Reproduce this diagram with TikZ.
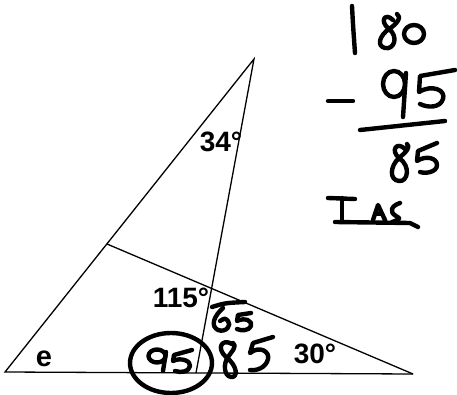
\documentclass[tikz,border=0pt]{standalone}
\usepackage{fontspec}
\setmainfont{Liberation Sans}
\usetikzlibrary{calc}
\tikzset{
  side/.style={line width=1.3pt, line join=miter},
  ink/.style={line width=4.4pt, line cap=round, line join=round},
  angtag/.style={font=\fontsize{28}{28}\selectfont\bfseries, inner sep=0pt, anchor=base}
}
\begin{document}
\begin{tikzpicture}[x=1pt, y=-1pt]
  \useasboundingbox (0,0) rectangle (457,395);
  % triangle and the two cevians
  \coordinate (A) at (5,372);
  \coordinate (B) at (254,59);
  \coordinate (C) at (413,374);
  \coordinate (D) at (196,372.9);
  \coordinate (E) at (107,244);
  \draw[side] (D) -- (B) -- (A) -- (C);
  \draw[side] (E) -- (C);
  % printed angles
  \node[angtag] (topang) at (221,152) {34°};
  \node[angtag] (midang) at (181,307) {115°};
  \node[angtag] (rightang) at (315,363) {30°};
  \node[angtag, font=\fontsize{29}{29}\selectfont\bfseries] (eang) at (44,366) {e};
  % handwritten working: 180 - 95 = 85
  \draw[ink] (352,6) .. controls (353,25) .. (355,53);
  \draw[ink] (393,20) .. controls (385,12) and (379,21) .. (389,29)
    .. controls (399,37) and (394,50) .. (385,48)
    .. controls (376,46) and (380,35) .. (389,29)
    .. controls (397,24) and (402,17) .. (397,14);
  \draw[ink] (414,34) ellipse [x radius=10, y radius=9];
  \draw[ink] (328,101) -- (353,101);
  \draw[ink] (394,84) ellipse [x radius=11, y radius=13];
  \draw[ink] (406,73) .. controls (405,95) .. (403,117);
  \draw[ink] (455,70) -- (420,76) -- (419,92)
    .. controls (432,84) and (446,90) .. (443,99)
    .. controls (440,108) and (428,108) .. (420,104);
  \draw[ink] (360,130) -- (445,121);
  \draw[ink] (405,149) .. controls (397,141) and (390,150) .. (399,158)
    .. controls (411,166) and (408,182) .. (399,181)
    .. controls (389,180) and (390,166) .. (399,158)
    .. controls (406,152) and (411,147) .. (407,144);
  \draw[ink] (437,143) -- (418,151) -- (417,161)
    .. controls (426,155) and (437,158) .. (437,165)
    .. controls (437,172) and (426,174) .. (420,172);
  % handwritten TAS
  \draw[ink] (328,198) -- (355,199);
  \draw[ink] (342,198) -- (342,222);
  \draw[ink] (335,222) -- (410,223) -- (418,227);
  \draw[ink] (373,220) -- (378,205) -- (385,220);
  \draw[ink] (375,214) -- (382,214);
  \draw[ink] (400,203) .. controls (391,206) and (389,212) .. (396,216)
    .. controls (401,219) .. (392,222);
  % handwritten 65 and 85 near the crossing
  \draw[ink] (212,307) .. controls (225,303) .. (245,302);
  \draw[ink] (223,308) .. controls (214,316) and (210,326) .. (218,330)
    .. controls (226,333) and (232,325) .. (228,321)
    .. controls (225,318) .. (220,321);
  \draw[ink] (251,313) -- (238,315) -- (237,321)
    .. controls (245,317) and (253,321) .. (251,326)
    .. controls (249,331) and (241,331) .. (237,329);
  \draw[ink] (232,344) .. controls (222,338) and (216,348) .. (226,357)
    .. controls (238,366) and (238,378) .. (231,377)
    .. controls (224,376) and (223,364) .. (228,357)
    .. controls (233,350) and (237,346) .. (233,343);
  \draw[ink] (273,337) -- (253,343) -- (250,353)
    .. controls (260,345) and (270,352) .. (268,359)
    .. controls (266,368) and (256,371) .. (250,370);
  % circled 95
  \draw[ink] (157,356) ellipse [x radius=8.5, y radius=6.5];
  \draw[ink] (166,352) .. controls (165,362) .. (163,371);
  \draw[ink] (192,350) -- (174,355) -- (173,361)
    .. controls (181,357) and (191,361) .. (190,366)
    .. controls (189,372) and (181,373) .. (175,371);
  \draw[ink] (171,363) ellipse [x radius=41, y radius=30];
\end{tikzpicture}
\end{document}
